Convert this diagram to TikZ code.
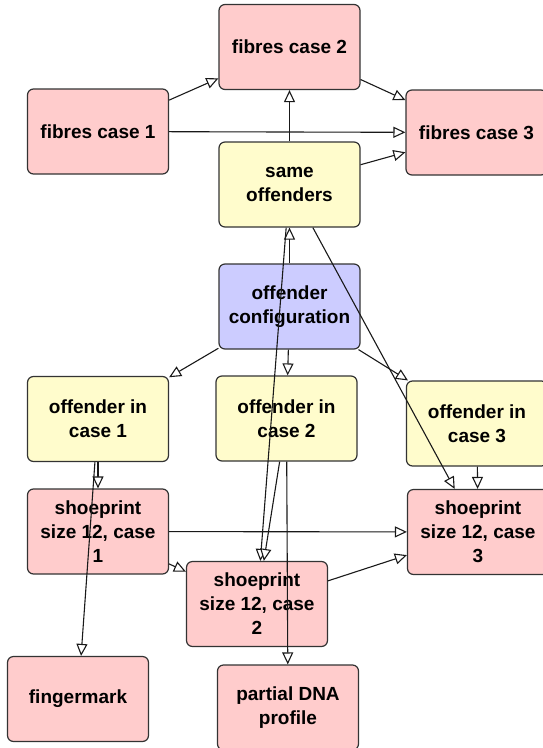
\documentclass[tikz,border=0pt]{standalone}
\usepackage{fontspec}
\setmainfont{Liberation Sans}
\usetikzlibrary{arrows.meta}

\begin{document}
\begin{tikzpicture}[x=1pt, y=-1pt,
    box/.style={draw=black!80, line width=1.2pt, rounded corners=6pt, minimum width=141pt, minimum height=85pt, inner sep=0pt, align=center, font=\fontsize{19}{24}\selectfont\bfseries},
    evnode/.style={box, fill=red!20},
    hypnode/.style={box, fill=yellow!20},
    topnode/.style={box, fill=blue!20},
    link/.style={-{Triangle[length=12pt, width=11pt, fill=white]}, line width=1.1pt, draw=black!90}]
    \useasboundingbox (0,0) rectangle (542,748);
    % fibres
    \node (fibres2) [evnode] at (289.5,47) {fibres case 2};
    \node (fibres1) [evnode] at (98,131.5) {fibres case 1};
    \node (fibres3) [evnode] at (476.5,132.5) {fibres case 3};
    % hypotheses
    \node (same) [hypnode] at (289.5,184.5) {same\\offenders};
    \node (config) [topnode] at (289.5,306.5) {offender\\configuration};
    \node (off1) [hypnode] at (98,419) {offender in\\case 1};
    \node (off2) [hypnode] at (286.5,418.5) {offender in\\case 2};
    \node (off3) [hypnode] at (477,423.5) {offender in\\case 3};
    % shoeprints and the rest
    \node (shoe1) [evnode] at (98,531.5) {shoeprint\\size 12, case\\1};
    \node (shoe2) [evnode] at (257,604) {shoeprint\\size 12, case\\2};
    \node (shoe3) [evnode] at (478,532) {shoeprint\\size 12, case\\3};
    \node (fingermark) [evnode] at (78,699) {fingermark};
    \node (DNA) [evnode] at (288,707.5) {partial DNA\\profile};

    \draw[link] (fibres1) -- (fibres2);
    \draw[link] (fibres1) -- (fibres3);
    \draw[link] (fibres2) -- (fibres3);
    \draw[link] (same) -- (fibres2);
    \draw[link] (same) -- (fibres3);
    \draw[link] (config) -- (same);
    \draw[link] (config) -- (off1);
    \draw[link] (config) -- (off2);
    \draw[link] (config) -- (off3);
    \draw[link] (same) -- (shoe2);
    \draw[link] (same) -- (shoe3);
    \draw[link] (off1) -- (shoe1);
    \draw[link] (off1) -- (fingermark);
    \draw[link] (off2) -- (shoe2);
    \draw[link] (off2) -- (DNA);
    \draw[link] (off3) -- (shoe3);
    \draw[link] (shoe1) -- (shoe3);
    \draw[link] (shoe1) -- (shoe2);
    \draw[link] (shoe2) -- (shoe3);
\end{tikzpicture}
\end{document}
